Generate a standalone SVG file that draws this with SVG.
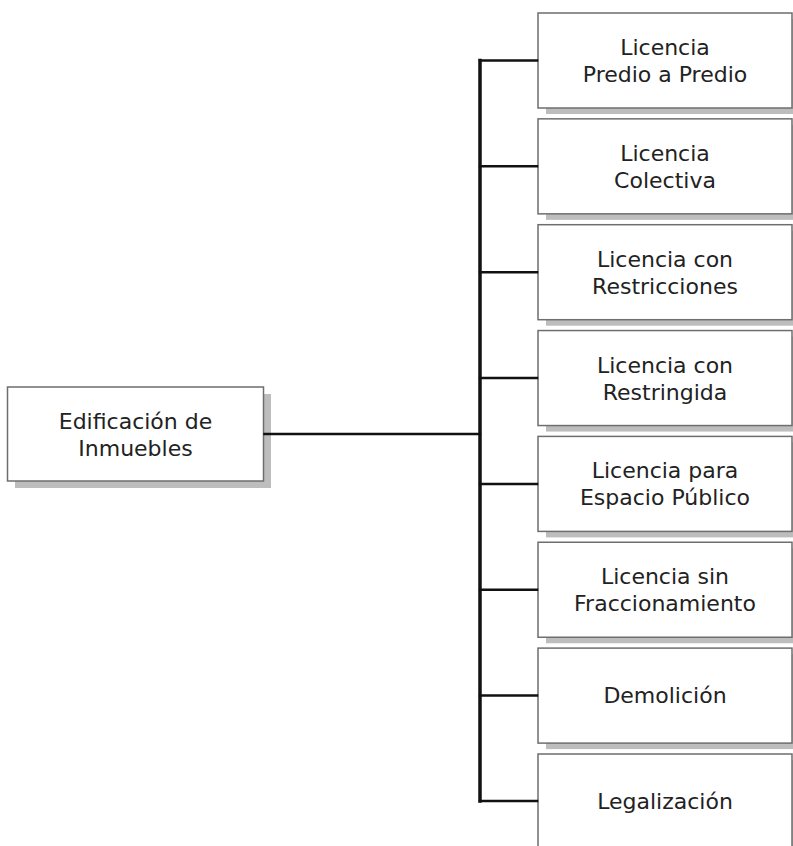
<svg xmlns="http://www.w3.org/2000/svg" width="793" height="846" viewBox="0 0 793 846">
<defs>
<style>
.sh{fill:#bdbdbd}
.bx{fill:#fff;stroke:#6e6e6e;stroke-width:1.5}
.t{font-family:"DejaVu Sans","Verdana",sans-serif;font-size:22px;fill:#222;text-anchor:middle}
.c{stroke:#111;fill:none;stroke-linecap:square}
</style>
</defs>
<rect width="793" height="846" fill="#fff"/>
<g id="n0">
<rect class="sh" x="15" y="394" width="256" height="94"/>
<rect class="bx" x="7.5" y="387" width="256" height="94"/>
<text class="t" x="135.5" y="428.5">Edificación de</text>
<text class="t" x="135.5" y="455.5">Inmuebles</text>
</g>
<g id="n1">
<rect class="sh" x="546" y="19" width="254" height="95"/>
<rect class="bx" x="538" y="13" width="254" height="95"/>
<text class="t" x="665" y="55">Licencia</text>
<text class="t" x="665" y="82">Predio a Predio</text>
</g>
<g id="n2">
<rect class="sh" x="546" y="124.85" width="254" height="95"/>
<rect class="bx" x="538" y="118.85" width="254" height="95"/>
<text class="t" x="665" y="160.85">Licencia</text>
<text class="t" x="665" y="187.85">Colectiva</text>
</g>
<g id="n3">
<rect class="sh" x="546" y="230.7" width="254" height="95"/>
<rect class="bx" x="538" y="224.7" width="254" height="95"/>
<text class="t" x="665" y="266.7">Licencia con</text>
<text class="t" x="665" y="293.7">Restricciones</text>
</g>
<g id="n4">
<rect class="sh" x="546" y="336.55" width="254" height="95"/>
<rect class="bx" x="538" y="330.55" width="254" height="95"/>
<text class="t" x="665" y="372.55">Licencia con</text>
<text class="t" x="665" y="399.55">Restringida</text>
</g>
<g id="n5">
<rect class="sh" x="546" y="442.4" width="254" height="95"/>
<rect class="bx" x="538" y="436.4" width="254" height="95"/>
<text class="t" x="665" y="478.4">Licencia para</text>
<text class="t" x="665" y="505.4">Espacio Público</text>
</g>
<g id="n6">
<rect class="sh" x="546" y="548.25" width="254" height="95"/>
<rect class="bx" x="538" y="542.25" width="254" height="95"/>
<text class="t" x="665" y="584.25">Licencia sin</text>
<text class="t" x="665" y="611.25">Fraccionamiento</text>
</g>
<g id="n7">
<rect class="sh" x="546" y="654.1" width="254" height="95"/>
<rect class="bx" x="538" y="648.1" width="254" height="95"/>
<text class="t" x="665" y="703">Demolición</text>
</g>
<g id="n8">
<rect class="sh" x="546" y="760" width="254" height="95"/>
<rect class="bx" x="538" y="754" width="254" height="95"/>
<text class="t" x="665" y="808.5">Legalización</text>
</g>
<g id="connectors">
<line class="c" x1="264.5" y1="434" x2="480" y2="434" stroke-width="2.5"/>
<line class="c" x1="480" y1="60.5" x2="480" y2="801" stroke-width="3.5"/>
<line class="c" x1="480" y1="60.5" x2="537" y2="60.5" stroke-width="2.5"/>
<line class="c" x1="480" y1="166.3" x2="537" y2="166.3" stroke-width="2.5"/>
<line class="c" x1="480" y1="272.2" x2="537" y2="272.2" stroke-width="2.5"/>
<line class="c" x1="480" y1="378" x2="537" y2="378" stroke-width="2.5"/>
<line class="c" x1="480" y1="483.9" x2="537" y2="483.9" stroke-width="2.5"/>
<line class="c" x1="480" y1="589.7" x2="537" y2="589.7" stroke-width="2.5"/>
<line class="c" x1="480" y1="695.6" x2="537" y2="695.6" stroke-width="2.5"/>
<line class="c" x1="480" y1="801" x2="537" y2="801" stroke-width="2.5"/>
</g>
</svg>
